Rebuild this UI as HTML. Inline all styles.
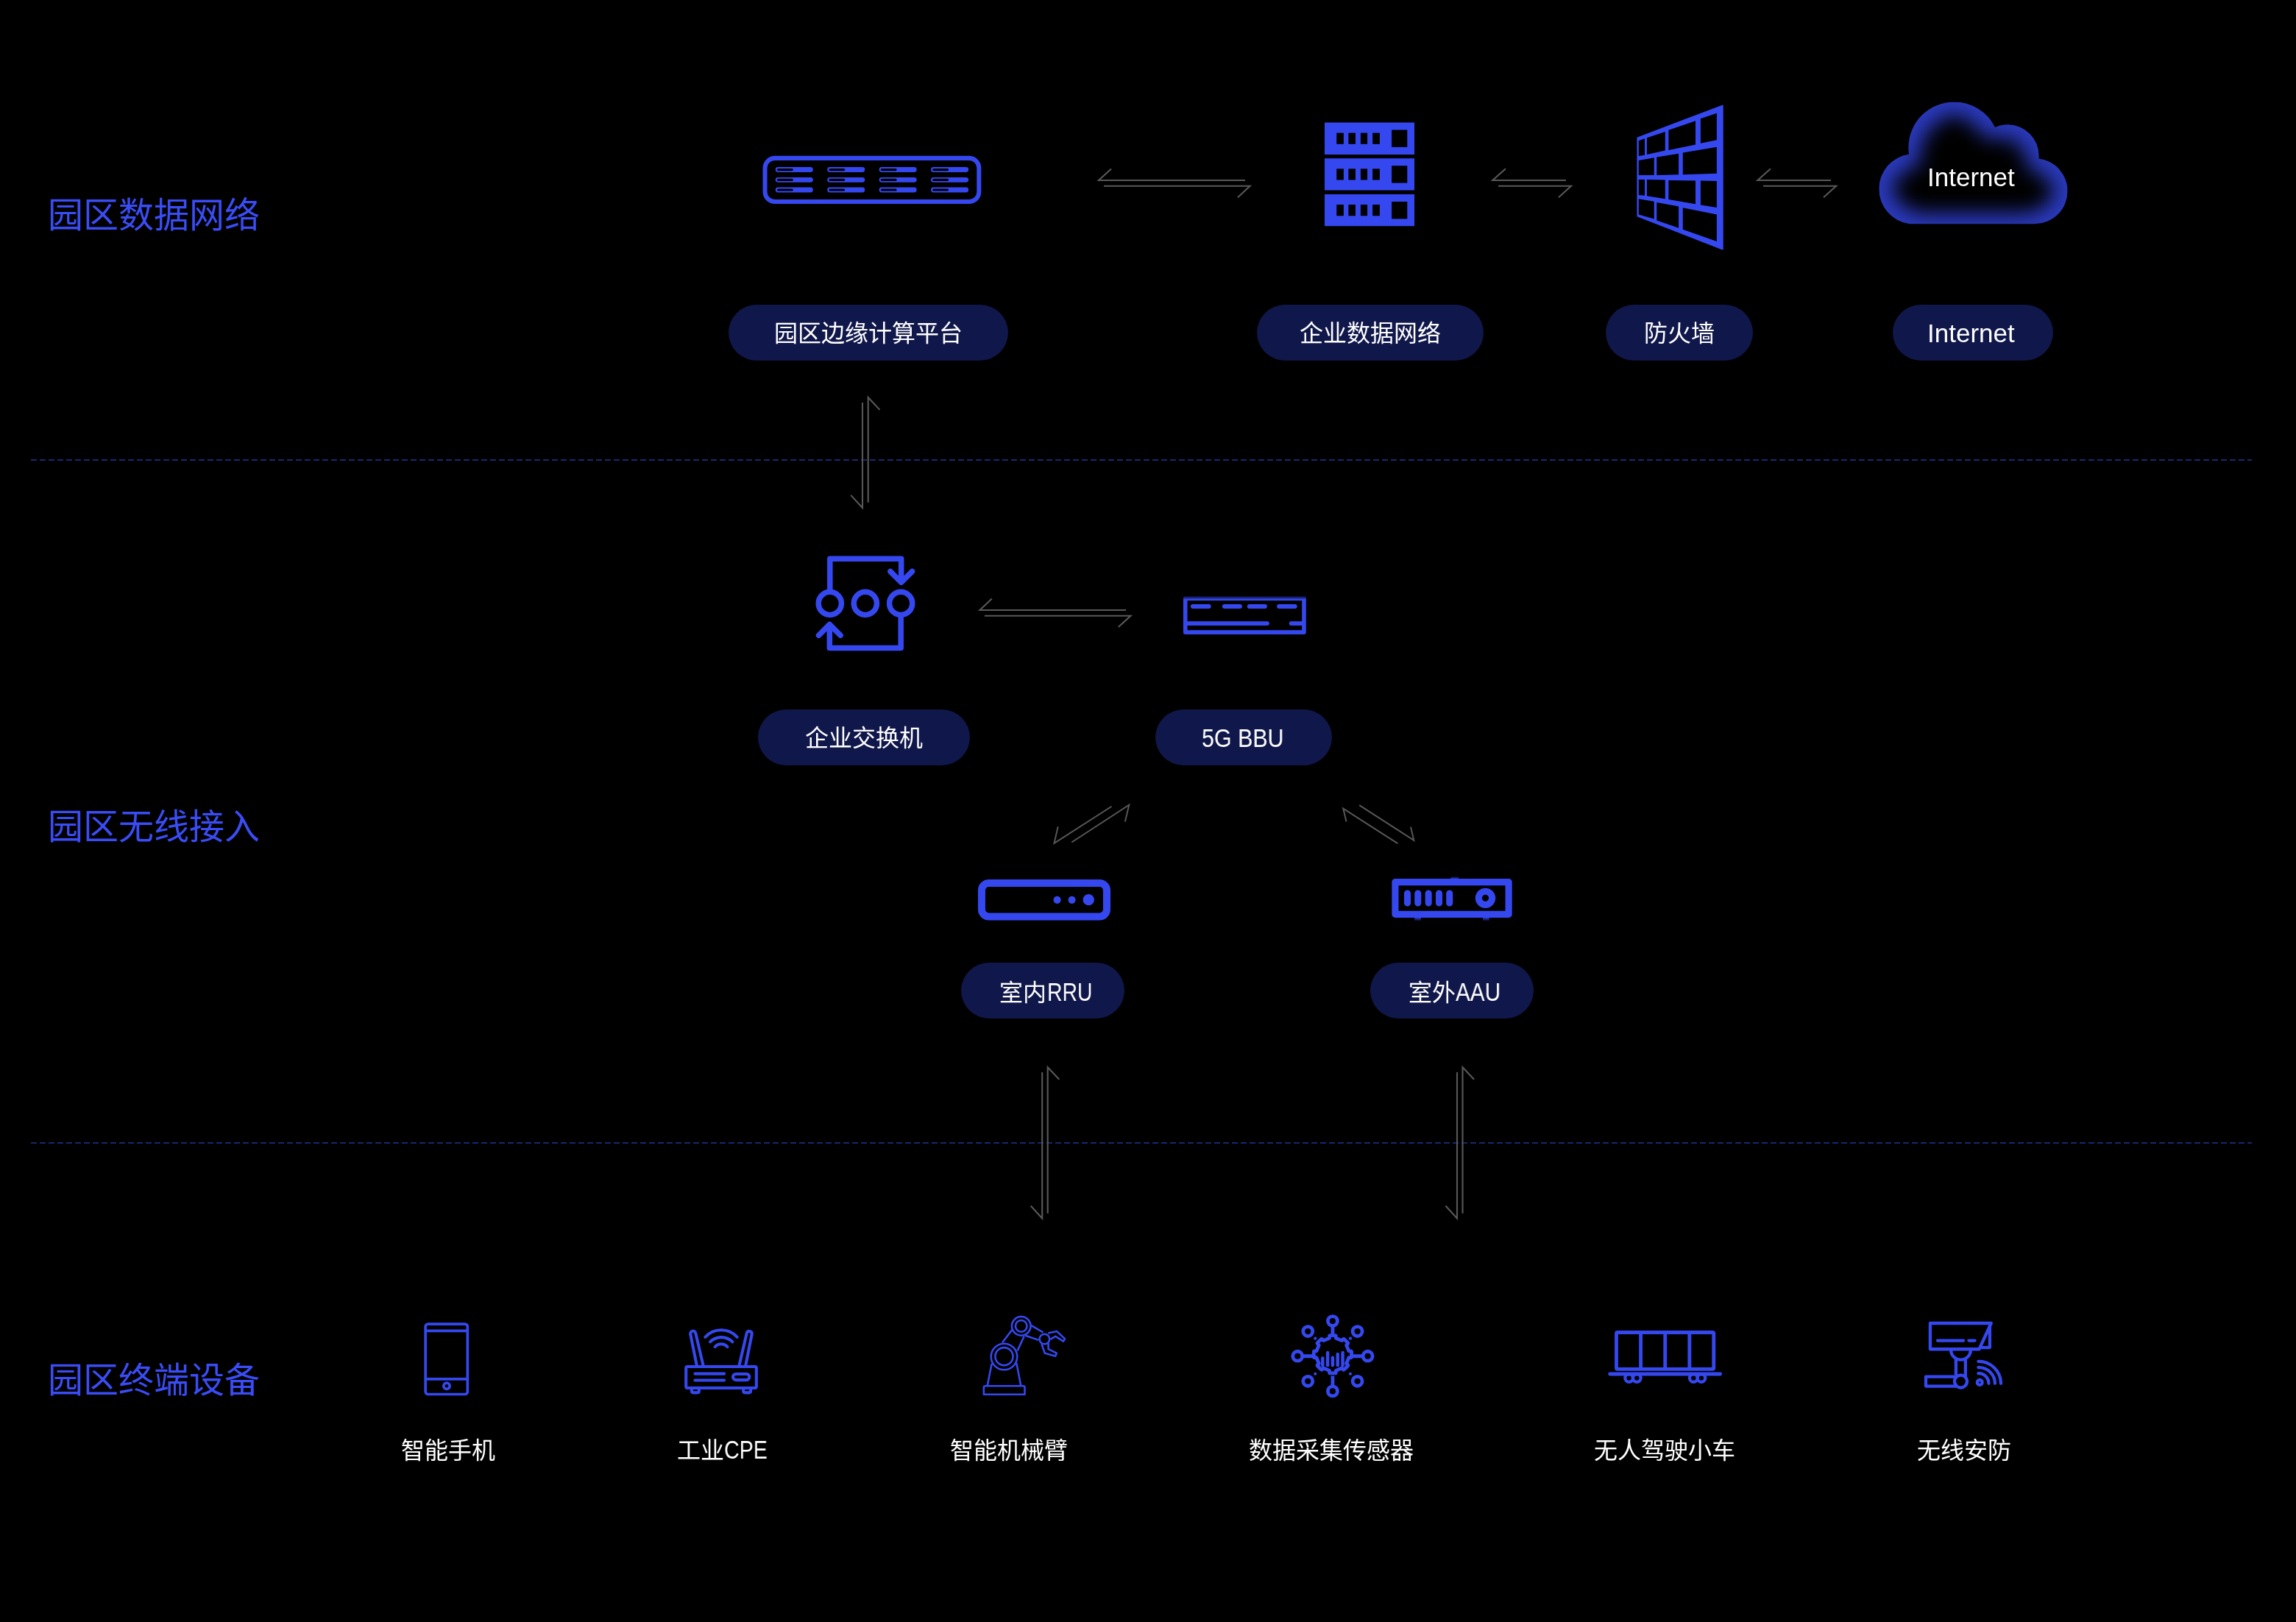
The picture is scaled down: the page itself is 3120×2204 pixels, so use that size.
<!DOCTYPE html>
<html lang="zh-CN"><head><meta charset="utf-8">
<style>
html,body{margin:0;padding:0;background:#000;width:3120px;height:2204px;overflow:hidden}
body{position:relative;font-family:"Liberation Sans",sans-serif}
svg.main{position:absolute;left:0;top:0}
.sec{will-change:transform;position:absolute;left:65px;font-size:48px;line-height:48px;color:#3a4cf5;white-space:nowrap}
.pill{position:absolute;height:76px;border-radius:38px;background:#10174a}
.cjk{will-change:transform;position:absolute;font-size:32px;line-height:32px;color:#fff;white-space:nowrap}
.lat{will-change:transform;position:absolute;font-size:35px;line-height:35px;color:#fff;white-space:nowrap;transform-origin:0 0}
.lbl{will-change:transform;position:absolute;width:400px;margin-left:-200px;text-align:center;font-size:32px;line-height:32px;color:#fff;white-space:nowrap}
</style></head>
<body>
<svg class="main" width="3120" height="2204" viewBox="0 0 3120 2204">
<defs>
  <filter id="ig" x="-20%" y="-20%" width="140%" height="140%">
    <feMorphology operator="erode" radius="115" in="SourceAlpha" result="e"/>
    <feGaussianBlur in="e" stdDeviation="100"/>
  </filter>
  <clipPath id="cc"><circle cx="960" cy="616" r="475"/><circle cx="1517" cy="702" r="325"/><circle cx="544" cy="1047" r="366"/><circle cx="1799" cy="1069" r="341"/><rect x="490" y="616" width="1310" height="796"/></clipPath><g id="cloudg"><circle cx="960" cy="616" r="475"/><circle cx="1517" cy="702" r="325"/><circle cx="544" cy="1047" r="366"/><circle cx="1799" cy="1069" r="341"/><rect x="490" y="616" width="1310" height="796"/></g>
</defs>

<!-- dashed separators -->
<line x1="42" y1="625" x2="3060" y2="625" stroke="#1a2670" stroke-width="2" stroke-dasharray="8 4"/>
<line x1="42" y1="1553" x2="3060" y2="1553" stroke="#1a2670" stroke-width="2" stroke-dasharray="8 4"/>

<!-- arrows -->
<g fill="none" stroke="#585858" stroke-width="2.1">
  <path d="M1510 229.4 L1493 245 L1692 245 M1500 252.7 L1698.6 252.7 L1682 268.3"/>
  <path d="M2046 229.2 L2028.3 245 L2128 245 M2036 252.7 L2135 252.7 L2118 268.2"/>
  <path d="M2406 229.2 L2388.4 245 L2488 245 M2396 252.7 L2495.2 252.7 L2478 268.2"/>
  <path d="M1347.8 813.5 L1331.5 829 L1530 829 M1338 836.8 L1536.4 836.8 L1519.8 852.1"/>
  <path d="M1172 547 L1172 690 L1156.2 672.9 M1195.5 556.9 L1179.7 540 L1179.7 682.8"/>
  <path d="M1416.2 1457 L1416.2 1655.5 L1400.6 1638.5 M1439.3 1466.7 L1423.7 1450.2 L1423.7 1648.7"/>
  <path d="M1980 1457 L1980 1655.5 L1964.4 1638.5 M2003.1 1466.7 L1987.5 1450.2 L1987.5 1648.7"/>
</g>
<svg x="1420" y="1080" width="140" height="80" viewBox="0 0 2296 1312">
  <path d="M290 708 L205 1080 L1485 258 M595 1058 L1875 225 L1785 600" fill="none" stroke="#585858" stroke-width="32"/>
</svg>
<svg x="1810" y="1080" width="140" height="80" viewBox="0 0 2296 1312">
  <path d="M320 598 L250 305 L1465 1085 M610 232 L1825 1015 L1755 715" fill="none" stroke="#585858" stroke-width="32"/>
</svg>

<!-- ICONS -->
<g id="icons" fill="#3548f0">
<!-- edge computing platform -->
<svg x="1020" y="190" width="330" height="110" viewBox="0 0 2296 765">
  <rect x="136" y="173" width="2023" height="411" rx="92" fill="none" stroke="#3548f0" stroke-width="42"/>
  <g id="bars">
    <rect x="235" y="258" width="355" height="48" rx="24"/>
    <rect x="250" y="271" width="152" height="22" rx="11" fill="#000"/>
    <rect x="235" y="354" width="355" height="48" rx="24"/>
    <rect x="250" y="367" width="152" height="22" rx="11" fill="#000"/>
    <rect x="235" y="449" width="355" height="48" rx="24"/>
    <rect x="250" y="462" width="152" height="22" rx="11" fill="#000"/>
  </g>
  <use href="#bars" x="490"/>
  <use href="#bars" x="980"/>
  <use href="#bars" x="1470"/>
</svg>

<!-- server -->
<g>
  <rect x="1800" y="166.5" width="122" height="43.5"/>
  <rect x="1800" y="215.2" width="122" height="43.3"/>
  <rect x="1800" y="264" width="122" height="43.2"/>
  <g fill="#000">
    <rect x="1816.2" y="180.6" width="9.7" height="15.2"/><rect x="1832.4" y="180.6" width="9.6" height="15.2"/><rect x="1848.9" y="180.6" width="9.2" height="15.2"/><rect x="1865.1" y="180.6" width="9.8" height="15.2"/>
    <rect x="1891.1" y="176.5" width="21.2" height="23.4"/>
    <rect x="1816.2" y="229.3" width="9.7" height="15.2"/><rect x="1832.4" y="229.3" width="9.6" height="15.2"/><rect x="1848.9" y="229.3" width="9.2" height="15.2"/><rect x="1865.1" y="229.3" width="9.8" height="15.2"/>
    <rect x="1891.1" y="225.2" width="21.2" height="23.4"/>
    <rect x="1816.2" y="278.1" width="9.7" height="15.2"/><rect x="1832.4" y="278.1" width="9.6" height="15.2"/><rect x="1848.9" y="278.1" width="9.2" height="15.2"/><rect x="1865.1" y="278.1" width="9.8" height="15.2"/>
    <rect x="1891.1" y="274" width="21.2" height="23.4"/>
  </g>
</g>

<!-- firewall -->
<svg x="2200" y="130" width="160" height="220" viewBox="0 0 1180 1622">
  <path fill="#3548f0" stroke="#3548f0" stroke-width="14" stroke-linejoin="round" d="M187 423 L1038 100 L1038 1538 L187 1206 Z"/>
  <path fill="#000" d="M198 452 L258 430 L258 595 L198 605 Z
  M280 422 L463 362 L463 550 L280 590 Z
  M497 345 L767 252 L767 490 L497 545 Z
  M818 230 L980 175 L980 445 L818 478 Z
  M198 648 L352 622 L352 797 L198 797 Z
  M378 615 L598 580 L598 790 L378 797 Z
  M640 572 L980 515 L980 780 L640 790 Z
  M198 840 L258 840 L258 1000 L198 995 Z
  M280 840 L463 845 L463 1035 L280 1005 Z
  M497 848 L767 852 L767 1085 L497 1040 Z
  M818 852 L980 855 L980 1120 L818 1095 Z
  M198 1035 L352 1060 L352 1235 L198 1190 Z
  M378 1070 L598 1110 L598 1325 L378 1250 Z
  M640 1122 L980 1190 L980 1460 L640 1340 Z"/>
</svg>

<!-- cloud -->
<svg x="2530" y="120" width="300" height="200" viewBox="0 0 2296 1531">
  <g clip-path="url(#cc)">
    <rect x="0" y="0" width="2296" height="1531" fill="#2a39bc"/>
    <use href="#cloudg" fill="#000" filter="url(#ig)"/>
  </g>
</svg>

<!-- enterprise switch -->
<svg x="1090" y="740" width="170" height="160" viewBox="0 0 1723 1622">
  <g fill="none" stroke="#3548f0" stroke-width="76" stroke-linecap="round" stroke-linejoin="round">
    <path d="M383 612 L383 195 L1365 195 L1365 505"/>
    <path d="M1215 370 L1365 520 L1515 370"/>
    <circle cx="383" cy="810" r="158"/>
    <circle cx="870" cy="810" r="158"/>
    <circle cx="1360" cy="810" r="158"/>
    <path d="M1360 1010 L1360 1425 L378 1425 L378 1115"/>
    <path d="M228 1250 L378 1100 L528 1250"/>
  </g>
</svg>

<!-- BBU -->
<svg x="1590" y="795" width="200" height="80" viewBox="0 0 2296 918">
  <g fill="none" stroke="#3548f0" stroke-linecap="round">
    <path d="M238 218 L238 736 L2089 736 L2089 218" stroke-width="64" stroke-linecap="butt" stroke-linejoin="round"/>
    <rect x="208" y="218" width="1912" height="24" fill="#3548f0" stroke="none"/>
    <rect x="208" y="165" width="1912" height="53" fill="url(#bbuf)" stroke="none"/>
    <defs><linearGradient id="bbuf" x1="0" y1="0" x2="0" y2="1"><stop offset="0" stop-color="#3548f0" stop-opacity="0"/><stop offset="1" stop-color="#3548f0" stop-opacity=".85"/></linearGradient></defs>
    <path d="M355 332 L605 332 M848 332 L1090 332 M1238 332 L1480 332 M1700 332 L1948 332" stroke-width="68"/>
    <path d="M268 598 L1515 598 M1890 598 L2060 598" stroke-width="67"/>
  </g>
</svg>

<!-- RRU -->
<svg x="1320" y="1180" width="200" height="80" viewBox="0 0 2296 918">
  <rect x="160" y="230" width="1952" height="522" rx="112" fill="none" stroke="#3548f0" stroke-width="115"/>
  <circle cx="1338" cy="492" r="58"/>
  <circle cx="1568" cy="492" r="58"/>
  <circle cx="1828" cy="490" r="88"/>
</svg>

<!-- AAU -->
<svg x="1880" y="1180" width="200" height="80" viewBox="0 0 2296 918">
  <defs>
    <linearGradient id="fd" x1="0" y1="0" x2="0" y2="1"><stop offset="0" stop-color="#3548f0"/><stop offset="1" stop-color="#3548f0" stop-opacity="0"/></linearGradient>
    <linearGradient id="fu" x1="0" y1="1" x2="0" y2="0"><stop offset="0" stop-color="#3548f0"/><stop offset="1" stop-color="#3548f0" stop-opacity="0"/></linearGradient>
  </defs>
  <rect x="485" y="760" width="100" height="65" fill="url(#fd)"/>
  <rect x="1550" y="760" width="100" height="65" fill="url(#fd)"/>
  <path d="M1040 170 L1060 125 L1185 125 L1160 170 Z" fill="url(#fu)"/>
  <path d="M183 213 L1953 213 L1953 716 L183 716 Z" fill="none" stroke="#3548f0" stroke-width="105" stroke-linejoin="round"/>
  <path d="M373 390 L373 540 M537 390 L537 540 M702 390 L702 540 M867 390 L867 540 M1030 390 L1030 540" stroke="#3548f0" stroke-width="104" stroke-linecap="round"/>
  <circle cx="1590" cy="463" r="105" fill="none" stroke="#3548f0" stroke-width="105"/>
</svg>

<!-- phone -->
<svg x="560" y="1785" width="100" height="125" viewBox="0 0 1298 1622">
  <g fill="none" stroke="#3548f0" stroke-width="48">
    <rect x="236" y="182" width="742" height="1239" rx="45"/>
    <path d="M236 303 L978 303 M236 1153 L978 1153"/>
    <circle cx="610" cy="1275" r="54"/>
  </g>
</svg>

<!-- CPE -->
<svg x="920" y="1790" width="120" height="110" viewBox="0 0 1769 1622">
  <g fill="none" stroke="#3548f0" stroke-width="60" stroke-linecap="round" stroke-linejoin="round">
    <rect x="180" y="988" width="1410" height="427" rx="30"/>
    <path d="M295 1415 L295 1480 Q295 1510 325 1510 L410 1510 Q440 1510 440 1480 L440 1415"/>
    <path d="M1330 1415 L1330 1480 Q1330 1510 1360 1510 L1445 1510 Q1475 1510 1475 1480 L1475 1415"/>
    <path d="M400 988 L268 335 A53 53 0 0 1 372 315 L530 988" stroke-linecap="butt"/>
    <path d="M1240 988 L1397 315 A53 53 0 0 1 1500 335 L1370 988" stroke-linecap="butt"/>
    <path d="M565 395 A436 436 0 0 1 1205 395"/>
    <path d="M665 490 A319 319 0 0 1 1110 490"/>
    <path d="M760 590 A170 170 0 0 1 1010 590"/>
    <path d="M360 1130 L945 1130 M360 1260 L945 1260"/>
    <path d="M1180 1135 L1390 1135 A60 60 0 0 1 1390 1255 L1180 1255 A60 60 0 0 1 1180 1135 Z"/>
  </g>
</svg>

<!-- robot arm -->
<svg x="1320" y="1775" width="140" height="130" viewBox="0 0 1747 1622">
  <g fill="none" stroke="#3548f0" stroke-width="32" stroke-linejoin="round">
    <path d="M210 1495 L210 1375 Q210 1350 240 1350 L875 1350 Q905 1350 905 1375 L905 1495 Z"/>
    <path d="M270 1350 L345 972 M840 1350 L765 962"/>
    <circle cx="555" cy="855" r="222"/>
    <circle cx="555" cy="850" r="150"/>
    <path d="M525 615 L690 398 M780 755 L895 505"/>
    <circle cx="845" cy="335" r="160"/>
    <circle cx="845" cy="335" r="98"/>
    <path d="M1010 322 L1215 440 M915 495 L1140 572"/>
    <circle cx="1240" cy="555" r="85"/>
    <path d="M1300 455 L1450 425 L1585 550 L1560 595 L1425 510 L1340 560"/>
    <path d="M1190 640 L1245 795 L1425 845 L1445 795 L1305 725 L1305 625"/>
  </g>
</svg>

<!-- sensor -->
<svg x="1740" y="1775" width="140" height="130" viewBox="0 0 1747 1622">
  <g fill="none" stroke="#3548f0" stroke-width="60" stroke-linecap="round" stroke-linejoin="round">
    <circle cx="885" cy="250" r="81"/><circle cx="885" cy="1440" r="81"/>
    <circle cx="290" cy="845" r="81"/><circle cx="1480" cy="845" r="81"/>
    <circle cx="465" cy="425" r="81"/><circle cx="1305" cy="425" r="81"/>
    <circle cx="465" cy="1270" r="81"/><circle cx="1305" cy="1270" r="81"/>
    <path d="M885 330 L885 510 M885 1180 L885 1360 M370 845 L545 845 M1220 845 L1400 845" stroke-linecap="butt"/>
    <path id="gear" d="M830 540 L830 510 Q830 495 845 495 L925 495 Q940 495 940 510 L940 540 L1040 582 L1062 560 Q1072 550 1083 560 L1140 617 Q1150 628 1140 638 L1118 660 L1160 760 L1190 760 Q1205 760 1205 775 L1205 855 Q1205 870 1190 870 L1160 870 L1118 970 L1140 992 Q1150 1002 1140 1013 L1083 1070 Q1072 1080 1062 1070 L1040 1048 L940 1090 L940 1120 Q940 1135 925 1135 L845 1135 Q830 1135 830 1120 L830 1090 L730 1048 L708 1070 Q698 1080 687 1070 L630 1013 Q620 1002 630 992 L652 970 L610 870 L580 870 Q565 870 565 855 L565 775 Q565 760 580 760 L610 760 L652 660 L630 638 Q620 628 630 617 L687 560 Q698 550 708 560 L730 582 Z"/>
    <path d="M715 880 L715 1000 M800 785 L800 1000 M885 870 L885 1000 M970 810 L970 1000 M1055 785 L1055 1000" stroke-width="55"/>
  </g>
  <g fill="#3548f0"><circle cx="590" cy="545" r="26"/><circle cx="1185" cy="545" r="26"/><circle cx="590" cy="1145" r="26"/><circle cx="1185" cy="1145" r="26"/></g>
</svg>

<!-- autonomous car -->
<svg x="2170" y="1790" width="180" height="110" viewBox="0 0 2296 1403">
  <g fill="none" stroke="#3548f0" stroke-width="62" stroke-linecap="round" stroke-linejoin="round">
    <rect x="338" y="262" width="1687" height="635" rx="20"/>
    <path d="M760 262 L760 897 M1183 262 L1183 897 M1605 262 L1605 897" stroke-linecap="butt"/>
    <path d="M225 982 L2138 982"/>
    <g stroke-width="55"><circle cx="557" cy="1052" r="68"/><circle cx="692" cy="1052" r="68"/><circle cx="1675" cy="1052" r="68"/><circle cx="1810" cy="1052" r="68"/></g>
  </g>
</svg>

<!-- security camera -->
<svg x="2590" y="1780" width="150" height="120" viewBox="0 0 2028 1622">
  <g fill="none" stroke="#3548f0" stroke-width="58" stroke-linecap="round" stroke-linejoin="round">
    <path d="M445 243 L1565 243 L1345 720 L445 720 Z"/>
    <path d="M1540 300 L1540 690 L1370 690"/>
    <path d="M580 562 L1055 562 M1155 562 L1265 562"/>
    <path d="M827 735 A180 180 0 0 0 1187 735"/>
    <path d="M918 905 L918 1200 M1093 905 L1093 1225" stroke-linecap="butt"/>
    <circle cx="1007" cy="1312" r="115"/>
    <path d="M890 1225 L365 1225 L365 1400 L920 1400" />
    <circle cx="1355" cy="1330" r="46"/>
    <path d="M1330 1165 A185 185 0 0 1 1520 1350"/>
    <path d="M1330 1055 A295 295 0 0 1 1635 1350"/>
    <path d="M1330 945 A410 410 0 0 1 1745 1350"/>
  </g>
</svg>
</g>
</svg>

<!-- cloud text -->
<div class="lat" style="left:2619px;top:223px">Internet</div>

<!-- section labels -->
<div class="sec" style="top:269px">园区数据网络</div>
<div class="sec" style="top:1100px">园区无线接入</div>
<div class="sec" style="top:1852px">园区终端设备</div>

<!-- pills -->
<div class="pill" style="left:990px;top:414px;width:380px"></div>
<div class="pill" style="left:1708px;top:414px;width:308px"></div>
<div class="pill" style="left:2182px;top:414px;width:200px"></div>
<div class="pill" style="left:2572px;top:414px;width:218px"></div>
<div class="pill" style="left:1030px;top:964px;width:288px"></div>
<div class="pill" style="left:1570px;top:964px;width:240px"></div>
<div class="pill" style="left:1306px;top:1308px;width:222px"></div>
<div class="pill" style="left:1862px;top:1308px;width:222px"></div>

<div class="cjk" style="left:1051.6px;top:437px">园区边缘计算平台</div>
<div class="cjk" style="left:1765.8px;top:437px">企业数据网络</div>
<div class="cjk" style="left:2234px;top:437px">防火墙</div>
<div class="lat" style="left:2619px;top:435px">Internet</div>
<div class="cjk" style="left:1093.7px;top:987px">企业交换机</div>
<div class="lat" style="left:1633.2px;top:984.5px;transform:scaleX(.869)">5G BBU</div>
<div class="cjk" style="left:1357.9px;top:1333px">室内</div>
<div class="lat" style="left:1422.6px;top:1330px;transform:scaleX(.811)">RRU</div>
<div class="cjk" style="left:1913.9px;top:1333px">室外</div>
<div class="lat" style="left:1978px;top:1330px;transform:scaleX(.849)">AAU</div>

<!-- bottom labels -->
<div class="lbl" style="left:608.5px;top:1955px">智能手机</div>
<div class="cjk" style="left:920px;top:1955px">工业</div>
<div class="lat" style="left:984.4px;top:1952px;transform:scaleX(.819)">CPE</div>
<div class="lbl" style="left:1370.5px;top:1955px">智能机械臂</div>
<div class="lbl" style="left:1808.7px;top:1955px">数据采集传感器</div>
<div class="lbl" style="left:2262.4px;top:1955px">无人驾驶小车</div>
<div class="lbl" style="left:2668.5px;top:1955px">无线安防</div>
</body></html>
